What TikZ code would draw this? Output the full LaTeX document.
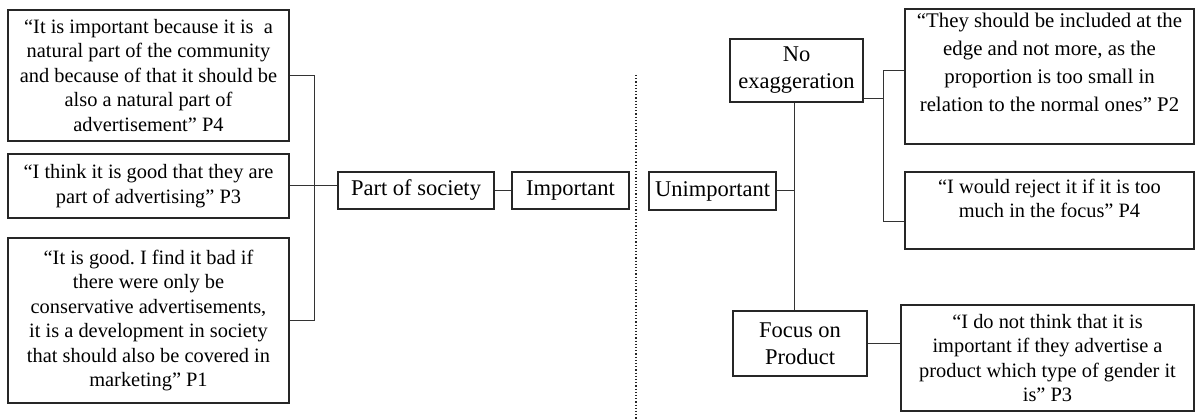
\documentclass[tikz,border=0pt]{standalone}
\usepackage{fontspec}
\setmainfont{Liberation Serif}
\frenchspacing
\begin{document}
\begin{tikzpicture}[x=1pt,y=-1pt,
  box/.style={draw=black!85, line width=1.2pt, inner sep=0pt, align=center},
  quotebox/.style={box, font=\fontsize{20.4}{24.5}\selectfont},
  labelbox/.style={box, font=\fontsize{22.5}{27}\selectfont},
  link/.style={draw=black!80, line width=1pt}]
\useasboundingbox (0,0) rectangle (1195,419);

% left-hand quotations
\node[quotebox, minimum width=281pt, minimum height=131pt] (qa) at (148.5,75.5)
  {“It is important because it is\ \ a\\ natural part of the community\\ and because of that it should be\\ also a natural part of\\ advertisement” P4};
\node[quotebox, minimum width=281pt, minimum height=64pt] (qb) at (148.5,186)
  {“I think it is good that they are\\ part of advertising” P3};
\node[quotebox, minimum width=281pt, minimum height=165pt] (qc) at (148.5,320.5)
  {“It is good. I find it bad if\\ there were only be\\ conservative advertisements,\\ it is a development in society\\ that should also be covered in\\ marketing” P1};

% categories
\node[labelbox, minimum width=156pt, minimum height=37pt] (part) at (416,190.5) {Part of society};
\node[labelbox, minimum width=117pt, minimum height=37pt] (imp) at (570.5,190.5) {Important};
\node[labelbox, minimum width=127pt, minimum height=38pt] (unimp) at (712.5,191) {Unimportant};
\node[labelbox, minimum width=133pt, minimum height=63pt] (noex) at (796.5,70.5) {No\\ exaggeration};
\node[labelbox, minimum width=134pt, minimum height=65pt] (focus) at (800,343.5) {Focus on\\ Product};

% right-hand quotations
\node[quotebox, font=\fontsize{20.8}{28}\selectfont, minimum width=289pt, minimum height=135pt] (qd) at (1049.5,76.5)
  {“They should be included at the\\ edge and not more, as the\\ proportion is too small in\\ relation to the normal ones” P2\\ \mbox{}};
\node[quotebox, minimum width=289pt, minimum height=77pt] (qe) at (1049.5,210.5)
  {“I would reject it if it is too\\ much in the focus” P4\\ \mbox{}};
\node[quotebox, minimum width=293pt, minimum height=106pt] (qf) at (1047.5,358)
  {“I do not think that it is\\ important if they advertise a\\ product which type of gender it\\ is” P3};

% bracket lines
\coordinate (lbk) at (314,0);
\coordinate (rv) at (794,0);
\coordinate (rbk) at (883,0);
\coordinate (divtop) at (636,75);
\coordinate (divbot) at (636,419);

\draw[link] (qa.east) -- (qa.east -| lbk) -- (qc.east -| lbk) -- (qc.east);
\draw[link] (qb.east) -- (qb.east -| part.west);
\draw[link] (part.east) -- (imp.west);

\draw[black!85, line width=1.2pt, dotted] (divtop) -- (divbot);

\draw[link] (noex.south -| rv) -- (focus.north -| rv);
\draw[link] (unimp.east) -- (unimp.east -| rv);
\draw[link] ([yshift=4pt]noex.south east) -- ([yshift=4pt]noex.south east -| rbk);
\draw[link] ([yshift=5.5pt]qd.west) -- ([yshift=5.5pt]qd.west -| rbk)
  -- ([yshift=-11.5pt]qe.west -| rbk) -- ([yshift=-11.5pt]qe.west);
\draw[link] (focus.east) -- (focus.east -| qf.west);
\end{tikzpicture}
\end{document}
